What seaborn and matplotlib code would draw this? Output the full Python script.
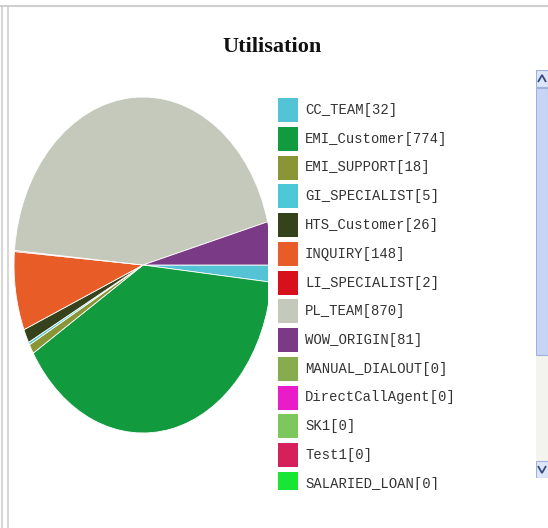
import matplotlib
matplotlib.use("Agg")
import matplotlib.pyplot as plt
import seaborn as sns
from matplotlib.patches import Rectangle, Polygon
from matplotlib.lines import Line2D

# ---- data ----
categories = ["CC_TEAM", "EMI_Customer", "EMI_SUPPORT", "GI_SPECIALIST",
              "HTS_Customer", "INQUIRY", "LI_SPECIALIST", "PL_TEAM",
              "WOW_ORIGIN", "MANUAL_DIALOUT", "DirectCallAgent", "SK1",
              "Test1", "SALARIED_LOAN"]
values = [32, 774, 18, 5, 26, 148, 2, 870, 81, 0, 0, 0, 0, 0]
colors = ["#55c3d6", "#129a3e", "#8a9636", "#4ec8d6", "#36421c", "#e85c28",
          "#d8101c", "#c4c9bb", "#7b3a86", "#86ac4e", "#e81cc8", "#7dc85c",
          "#d6205c", "#18e634"]
title = "Utilisation"

sns.set_theme(style="white")

W, H = 548, 528
fig = plt.figure(figsize=(W / 100, H / 100), dpi=100)
fig.patch.set_facecolor("white")


def fx(px):
    return px / W


def fy(py):
    return 1 - py / H


# ---- frame lines ----
for x in (1.5, 8):
    fig.add_artist(Line2D([fx(x), fx(x)], [0, fy(6)], color="#cfcfcf", lw=1.2,
                          transform=fig.transFigure))
fig.add_artist(Line2D([0, 1], [fy(6), fy(6)], color="#cfcfcf", lw=1.5,
                      transform=fig.transFigure))

# ---- title ----
fig.text(fx(272), fy(47), title, ha="center", va="center", fontsize=16,
         fontweight="bold", family=["Liberation Serif", "DejaVu Serif"],
         color="#111111")

# ---- pie (elliptical, clipped at right) ----
cx, cy, rx, ry = 143, 265, 129, 168
clip_right = 268
ax = fig.add_axes([fx(cx - rx), fy(cy + ry), (clip_right - (cx - rx)) / W,
                   2 * ry / H])
pie_vals = [v for v in values if v > 0]
pie_cols = [c for v, c in zip(values, colors) if v > 0]
ax.pie(pie_vals, colors=pie_cols, startangle=0, counterclock=False,
       radius=1, wedgeprops=dict(edgecolor="white", linewidth=0.6,
                                 clip_on=True))
ax.set_aspect("auto")
ax.set_xlim(-1, (clip_right - cx) / rx)
ax.set_ylim(-1, 1)
ax.axis("off")

# ---- legend (scrolling list, clipped) ----
lx0, lx1, ly0, ly1 = 272, 535, 95, 490
lax = fig.add_axes([fx(lx0), fy(ly1), (lx1 - lx0) / W, (ly1 - ly0) / H])
lax.set_xlim(lx0, lx1)
lax.set_ylim(ly1, ly0)
lax.axis("off")
first_y, step = 110, 28.75
for i, (name, v, c) in enumerate(zip(categories, values, colors)):
    yc = first_y + i * step
    lax.add_patch(Rectangle((278, yc - 12), 20, 24, facecolor=c,
                            edgecolor="none", clip_on=True))
    lax.text(305, yc, f"{name}[{v}]", ha="left", va="center", fontsize=10,
             family=["Liberation Mono", "DejaVu Sans Mono"], color="#333333",
             clip_on=True)

# ---- scrollbar ----
sax = fig.add_axes([fx(536), fy(478), 12 / W, (478 - 70) / H])
sax.set_xlim(536, 548)
sax.set_ylim(478, 70)
sax.axis("off")
sax.add_patch(Rectangle((536, 70), 12, 408, facecolor="#f4f4ef",
                        edgecolor="none"))
sax.add_patch(Rectangle((536, 88), 12, 267, facecolor="#c6d5f6",
                        edgecolor="#9fb2de", lw=0.8))
sax.add_patch(Rectangle((536, 70), 12, 17, facecolor="#dde6f8",
                        edgecolor="#9fb2de", lw=0.8))
sax.add_patch(Rectangle((536, 461), 12, 17, facecolor="#dde6f8",
                        edgecolor="#9fb2de", lw=0.8))
sax.add_patch(Polygon([(538, 82), (542, 75), (546, 82)], closed=False,
                      fill=False, edgecolor="#3a4a80", lw=1.3))
sax.add_patch(Polygon([(538, 466), (542, 473), (546, 466)], closed=False,
                      fill=False, edgecolor="#3a4a80", lw=1.3))

fig.savefig("out.png", dpi=100)
